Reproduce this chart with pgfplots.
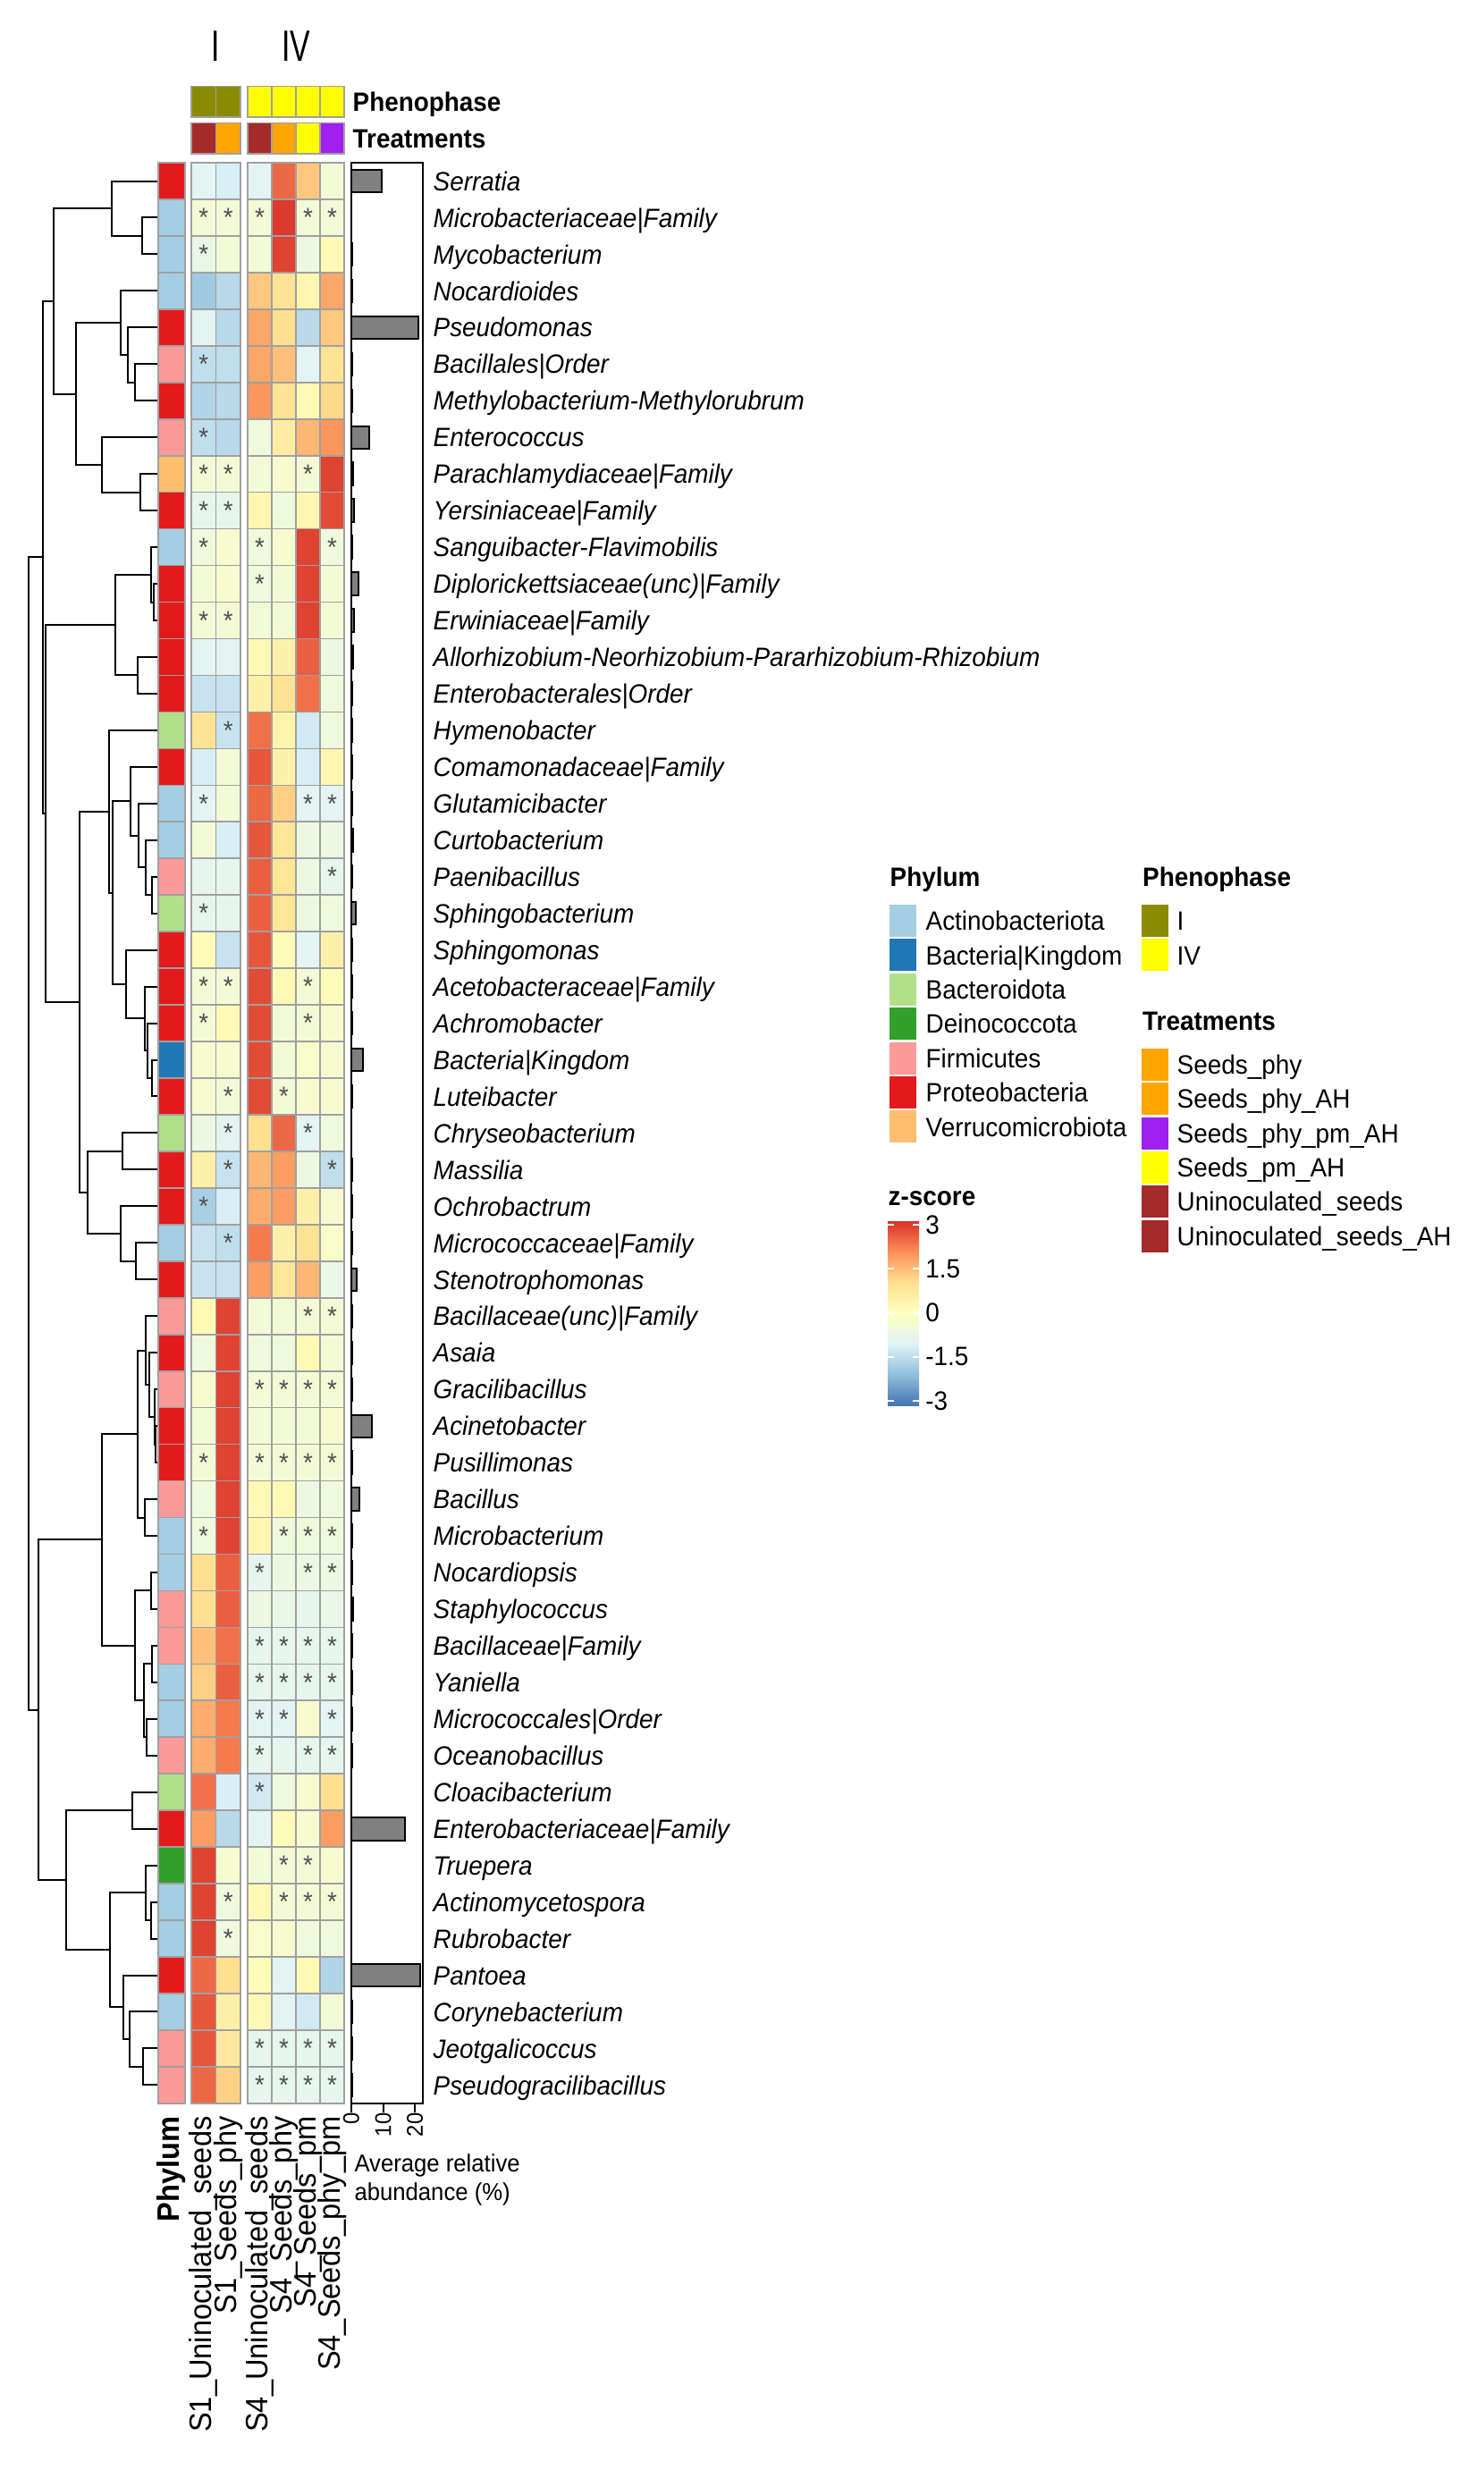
\documentclass[border=0pt]{standalone}
\usepackage{fontspec}
\setmainfont{Liberation Sans}[FakeStretch=0.94]
\newfontfamily\narrowfont{Liberation Sans}[FakeStretch=0.69]
\usepackage{pgfplots}
\usepackage{pgfplotstable}
\pgfplotsset{compat=1.18}
\usetikzlibrary{calc}

\definecolor{cAct}{HTML}{A6CEE3}
\definecolor{cKin}{HTML}{1F78B4}
\definecolor{cBcd}{HTML}{B2DF8A}
\definecolor{cDei}{HTML}{33A02C}
\definecolor{cFir}{HTML}{FB9A99}
\definecolor{cPro}{HTML}{E31A1C}
\definecolor{cVer}{HTML}{FDBF6F}
\definecolor{cOli}{HTML}{8B8B00}
\definecolor{cYel}{HTML}{FFFF00}
\definecolor{cOra}{HTML}{FFA500}
\definecolor{cPur}{HTML}{A020F0}
\definecolor{cBro}{HTML}{A52A2A}
\definecolor{cgrid}{RGB}{160,160,160}
\definecolor{barfill}{RGB}{128,128,128}
\definecolor{starc}{RGB}{80,80,80}

\newcommand{\fA}{\fontsize{8.9pt}{10.7pt}\selectfont}
\newcommand{\fB}{\fontsize{10.4pt}{12pt}\selectfont}
\newcommand{\fC}{\fontsize{7.6pt}{9pt}\selectfont}
\newcommand{\fD}{\fontsize{8.2pt}{10pt}\selectfont}

\pgfplotsset{colormap={rdylbu}{rgb255=(69,117,180) rgb255=(145,191,219) rgb255=(224,243,248) rgb255=(255,255,191) rgb255=(254,224,144) rgb255=(252,141,89) rgb255=(215,48,39)}}

% cell marks, 1 px of the reference = 0.3pt
\pgfdeclareplotmark{cellP}{\pgfpathrectangle{\pgfpoint{-4.5pt}{-6.144pt}}{\pgfpoint{9pt}{12.288pt}}\pgfusepath{fill,stroke}}
\pgfdeclareplotmark{cellS1}{\pgfpathrectangle{\pgfpoint{-4.125pt}{-6.144pt}}{\pgfpoint{8.25pt}{12.288pt}}\pgfusepath{fill,stroke}}
\pgfdeclareplotmark{cellS4}{\pgfpathrectangle{\pgfpoint{-4.05pt}{-6.144pt}}{\pgfpoint{8.1pt}{12.288pt}}\pgfusepath{fill,stroke}}
\pgfdeclareplotmark{hdrS1}{\pgfpathrectangle{\pgfpoint{-4.125pt}{-5.15pt}}{\pgfpoint{8.25pt}{10.3pt}}\pgfusepath{fill,stroke}}
\pgfdeclareplotmark{hdrS4}{\pgfpathrectangle{\pgfpoint{-4.05pt}{-5.15pt}}{\pgfpoint{8.1pt}{10.3pt}}\pgfusepath{fill,stroke}}
\pgfdeclareplotmark{legsw}{\pgfpathrectangle{\pgfpoint{-4.575pt}{-5.4pt}}{\pgfpoint{9.15pt}{10.8pt}}\pgfusepath{fill}}

\pgfplotsset{
  hcell/.style={scatter, only marks, point meta=explicit, line width=0.5pt,
    mark options={line width=0.5pt},
    scatter/use mapped color={draw=cgrid, fill=mapped color}},
  hdr/.style={only marks, line width=0.5pt, mark options={draw=cgrid, fill=#1, line width=0.5pt}},
  sw/.style={only marks, mark=legsw, mark options={fill=#1, draw=none}},
}

% z-scores per taxon (rows top to bottom), phylum, mean relative abundance (%)
\pgfplotstableread{
row phy S1U S1P S4U S4P S4M S4X bar
1 Pro -0.9 -1.1 -0.9 2.4 1.3 -0.4 9.6
2 Act -0.4 -0.4 -0.4 2.9 -0.4 -0.4 0.1
3 Act -0.7 -0.4 -0.4 2.8 -0.6 0.2 0.3
4 Act -1.8 -1.5 1.3 0.9 0.3 1.7 0.3
5 Pro -0.9 -1.5 1.7 1.0 -1.5 1.3 21.1
6 Fir -1.4 -1.4 1.7 1.4 -0.9 0.9 0.2
7 Pro -1.6 -1.5 1.9 0.9 0.2 1.1 0.2
8 Fir -1.4 -1.5 -0.5 0.6 1.5 1.9 5.6
9 Ver -0.4 -0.4 -0.4 -0.3 -0.4 2.8 0.5
10 Pro -0.8 -0.8 0.3 -0.5 0.3 2.7 0.8
11 Act -0.5 -0.3 -0.5 -0.3 2.8 -0.5 0.3
12 Pro -0.4 -0.3 -0.5 -0.4 2.8 -0.4 2.2
13 Pro -0.4 -0.4 -0.4 -0.4 2.8 -0.4 0.9
14 Pro -0.9 -0.9 0.2 0.5 2.5 -0.6 0.6
15 Pro -1.3 -1.3 0.5 0.9 2.3 -0.5 0.3
16 Bcd 0.9 -1.3 2.3 0.4 -1.2 -0.5 0.2
17 Pro -1.1 -0.4 2.6 0.5 -1.1 0.3 0.3
18 Act -0.9 -0.4 2.4 1.2 -0.9 -0.9 0.3
19 Act -0.4 -1.1 2.6 0.8 -0.6 -0.6 0.5
20 Fir -0.8 -0.8 2.5 0.8 -0.6 -0.8 0.4
21 Bcd -0.8 -0.8 2.5 0.8 -0.6 -0.5 1.4
22 Pro 0.1 -1.3 2.6 0.1 -0.9 0.5 0.3
23 Pro -0.4 -0.4 2.7 0.2 -0.4 0.1 0.3
24 Pro -0.4 0.2 2.7 -0.4 -0.4 -0.3 0.3
25 Kin -0.3 -0.3 2.7 -0.4 -0.2 -0.3 3.7
26 Pro -0.3 -0.4 2.7 -0.4 -0.3 -0.3 0.3
27 Bcd -0.6 -0.9 1.0 2.4 -0.9 -0.5 0.1
28 Pro 0.5 -1.3 1.5 1.8 -0.6 -1.4 0.2
29 Pro -1.7 -1.1 1.6 1.8 0.5 -0.3 0.2
30 Act -1.3 -1.4 2.2 0.5 0.9 -0.2 0.3
31 Pro -1.3 -1.3 1.8 0.8 1.5 -0.7 1.7
32 Fir 0.2 2.8 -0.4 -0.4 -0.4 -0.4 0.3
33 Pro -0.5 2.8 -0.5 -0.5 0.2 -0.4 0.2
34 Fir -0.3 2.8 -0.4 -0.4 -0.4 -0.4 0.3
35 Pro -0.4 2.8 -0.4 -0.4 -0.4 -0.3 6.5
36 Pro -0.4 2.8 -0.4 -0.4 -0.4 -0.4 0.3
37 Fir -0.5 2.8 0.2 0.2 -0.6 -0.5 2.5
38 Act -0.5 2.8 0.3 -0.5 -0.5 -0.5 0.2
39 Act 1.0 2.5 -0.8 -0.6 -0.6 -0.6 0.2
40 Fir 1.0 2.5 -0.6 -0.7 -0.8 -0.7 0.6
41 Fir 1.4 2.3 -0.8 -0.8 -0.8 -0.8 0.3
42 Act 1.2 2.5 -0.8 -0.8 -0.8 -0.8 0.2
43 Act 1.6 2.2 -0.9 -0.9 -0.3 -0.9 0.2
44 Fir 1.6 2.2 -0.8 -0.8 -0.8 -0.8 0.2
45 Bcd 2.3 -1.1 -1.2 -0.5 -0.3 1.0 0.1
46 Pro 1.8 -1.5 -0.9 0.1 -0.3 1.8 16.9
47 Dei 2.8 -0.3 -0.4 -0.4 -0.4 -0.3 0.1
48 Act 2.8 -0.5 0.2 -0.4 -0.4 -0.4 0.1
49 Act 2.8 -0.5 -0.2 -0.3 -0.5 -0.5 0.1
50 Pro 2.4 1.0 0.1 -0.9 0.2 -1.6 21.7
51 Act 2.6 0.5 0.2 -0.9 -1.2 -0.4 0.3
52 Fir 2.6 0.7 -0.8 -0.8 -0.8 -0.8 0.2
53 Fir 2.4 1.2 -0.8 -0.8 -0.8 -0.8 0.4
}\hm

\begin{document}
\begin{tikzpicture}
\path[use as bounding box] (0,0) rectangle (497.7pt,-828.9pt);

% ---------------- dendrogram + heatmap (x in px, y in rows)
\begin{axis}[name=H, at={(0pt,-26.34pt)}, anchor=north west, scale only axis,
  width=144pt, height=679.5pt, xmin=0, xmax=480, ymin=-1.8, ymax=53.5,
  y dir=reverse, hide axis, clip=false,
  colormap name=rdylbu, point meta min=-3, point meta max=3]

\addplot[black, line width=0.6pt, mark=none, unbounded coords=jump] coordinates {
(176,2)(159,2)(159,3)(176,3) (nan,nan)
(176,1)(125,1)(125,2.5)(159,2.5) (nan,nan)
(176,6)(151,6)(151,7)(176,7) (nan,nan)
(176,5)(143,5)(143,6.5)(151,6.5) (nan,nan)
(176,4)(135,4)(135,5.75)(143,5.75) (nan,nan)
(176,9)(157,9)(157,10)(176,10) (nan,nan)
(176,8)(114,8)(114,9.5)(157,9.5) (nan,nan)
(135,4.875)(85,4.875)(85,8.75)(114,8.75) (nan,nan)
(125,1.75)(60,1.75)(60,6.8125)(85,6.8125) (nan,nan)
(176,12)(172,12)(172,13)(176,13) (nan,nan)
(176,11)(169,11)(169,12.5)(172,12.5) (nan,nan)
(176,14)(154,14)(154,15)(176,15) (nan,nan)
(169,11.75)(129,11.75)(129,14.5)(154,14.5) (nan,nan)
(176,20)(170,20)(170,21)(176,21) (nan,nan)
(176,19)(163,19)(163,20.5)(170,20.5) (nan,nan)
(176,18)(155,18)(155,19.75)(163,19.75) (nan,nan)
(176,17)(146,17)(146,18.875)(155,18.875) (nan,nan)
(176,25)(170,25)(170,26)(176,26) (nan,nan)
(176,24)(165,24)(165,25.5)(170,25.5) (nan,nan)
(176,23)(162,23)(162,24.75)(165,24.75) (nan,nan)
(176,22)(141,22)(141,23.875)(162,23.875) (nan,nan)
(146,17.9375)(126,17.9375)(126,22.9375)(141,22.9375) (nan,nan)
(176,16)(122,16)(122,20.4375)(126,20.4375) (nan,nan)
(176,27)(137,27)(137,28)(176,28) (nan,nan)
(176,30)(152,30)(152,31)(176,31) (nan,nan)
(176,29)(135,29)(135,30.5)(152,30.5) (nan,nan)
(137,27.5)(98,27.5)(98,29.75)(135,29.75) (nan,nan)
(122,18.2188)(89,18.2188)(89,28.625)(98,28.625) (nan,nan)
(129,13.125)(51,13.125)(51,23.4219)(89,23.4219) (nan,nan)
(60,4.2813)(48,4.2813)(48,18.2734)(51,18.2734) (nan,nan)
(176,35)(174.3,35)(174.3,36)(176,36) (nan,nan)
(176,34)(173.3,34)(173.3,35.5)(174.3,35.5) (nan,nan)
(176,33)(167,33)(167,34.75)(173.3,34.75) (nan,nan)
(176,32)(163,32)(163,33.875)(167,33.875) (nan,nan)
(176,37)(162,37)(162,38)(176,38) (nan,nan)
(163,32.9375)(154,32.9375)(154,37.5)(162,37.5) (nan,nan)
(176,39)(169,39)(169,40)(176,40) (nan,nan)
(176,41)(170,41)(170,42)(176,42) (nan,nan)
(176,43)(164,43)(164,44)(176,44) (nan,nan)
(170,41.5)(161,41.5)(161,43.5)(164,43.5) (nan,nan)
(169,39.5)(151,39.5)(151,42.5)(161,42.5) (nan,nan)
(154,35.2188)(114,35.2188)(114,41)(151,41) (nan,nan)
(176,45)(148,45)(148,46)(176,46) (nan,nan)
(176,48)(169,48)(169,49)(176,49) (nan,nan)
(176,47)(163,47)(163,48.5)(169,48.5) (nan,nan)
(176,52)(160,52)(160,53)(176,53) (nan,nan)
(176,51)(145,51)(145,52.5)(160,52.5) (nan,nan)
(176,50)(138,50)(138,51.75)(145,51.75) (nan,nan)
(163,47.75)(123,47.75)(123,50.875)(138,50.875) (nan,nan)
(148,45.5)(74,45.5)(74,49.3125)(123,49.3125) (nan,nan)
(114,38.1094)(43,38.1094)(43,47.4063)(74,47.4063) (nan,nan)
(48,11.2773)(32,11.2773)(32,42.7578)(43,42.7578)
};

% phylum column
\addplot[scatter, only marks, mark=cellP, point meta=explicit symbolic, line width=0.5pt,
  scatter/classes={
    Act={draw=cgrid,fill=cAct}, Kin={draw=cgrid,fill=cKin}, Bcd={draw=cgrid,fill=cBcd},
    Dei={draw=cgrid,fill=cDei}, Fir={draw=cgrid,fill=cFir}, Pro={draw=cgrid,fill=cPro},
    Ver={draw=cgrid,fill=cVer}}]
  table[x expr=192, y=row, meta=phy]{\hm};

% z-score cells
\addplot[hcell, mark=cellS1] table[x expr=227.75, y=row, meta=S1U]{\hm};
\addplot[hcell, mark=cellS1] table[x expr=255.25, y=row, meta=S1P]{\hm};
\addplot[hcell, mark=cellS4] table[x expr=290.5, y=row, meta=S4U]{\hm};
\addplot[hcell, mark=cellS4] table[x expr=317.5, y=row, meta=S4P]{\hm};
\addplot[hcell, mark=cellS4] table[x expr=344.5, y=row, meta=S4M]{\hm};
\addplot[hcell, mark=cellS4] table[x expr=371.5, y=row, meta=S4X]{\hm};

% column annotations
\addplot[hdr=cOli, mark=hdrS1] coordinates {(227.75,-1.167)(255.25,-1.167)};
\addplot[hdr=cYel, mark=hdrS4] coordinates {(290.5,-1.167)(317.5,-1.167)(344.5,-1.167)(371.5,-1.167)};
\addplot[hdr=cBro, mark=hdrS1] coordinates {(227.75,-0.171)};
\addplot[hdr=cOra, mark=hdrS1] coordinates {(255.25,-0.171)};
\addplot[hdr=cBro, mark=hdrS4] coordinates {(290.5,-0.171)};
\addplot[hdr=cOra, mark=hdrS4] coordinates {(317.5,-0.171)};
\addplot[hdr=cYel, mark=hdrS4] coordinates {(344.5,-0.171)};
\addplot[hdr=cPur, mark=hdrS4] coordinates {(371.5,-0.171)};

% significance asterisks
\addplot[only marks, mark=text, text mark={*}, text mark as node=true,
  text mark style={font=\fA, text=starc, inner sep=0pt, anchor=center}] coordinates {
(227.75,2)(255.25,2)(290.5,2)(344.5,2)(371.5,2)
(227.75,3) (227.75,6) (227.75,8)
(227.75,9)(255.25,9)(344.5,9)
(227.75,10)(255.25,10)
(227.75,11)(290.5,11)(371.5,11)
(290.5,12)
(227.75,13)(255.25,13)
(255.25,16)
(227.75,18)(344.5,18)(371.5,18)
(371.5,20) (227.75,21)
(227.75,23)(255.25,23)(344.5,23)
(227.75,24)(344.5,24)
(255.25,26)(317.5,26)
(255.25,27)(344.5,27)
(255.25,28)(371.5,28)
(227.75,29) (255.25,30)
(344.5,32)(371.5,32)
(290.5,34)(317.5,34)(344.5,34)(371.5,34)
(227.75,36)(290.5,36)(317.5,36)(344.5,36)(371.5,36)
(227.75,38)(317.5,38)(344.5,38)(371.5,38)
(290.5,39)(344.5,39)(371.5,39)
(290.5,41)(317.5,41)(344.5,41)(371.5,41)
(290.5,42)(317.5,42)(344.5,42)(371.5,42)
(290.5,43)(317.5,43)(371.5,43)
(290.5,44)(344.5,44)(371.5,44)
(290.5,45)
(317.5,47)(344.5,47)
(255.25,48)(317.5,48)(344.5,48)(371.5,48)
(255.25,49)
(290.5,52)(317.5,52)(344.5,52)(371.5,52)
(290.5,53)(317.5,53)(344.5,53)(371.5,53)
};

\node[font=\narrowfont\fontsize{14.7pt}{16pt}\selectfont] at (axis cs:241.5,-2.674) {I};
\node[font=\narrowfont\fontsize{14.7pt}{16pt}\selectfont] at (axis cs:331,-2.674) {IV};
\node[anchor=base west, font=\fA\bfseries, inner sep=0pt] at (axis cs:394,-0.909) {Phenophase};
\node[anchor=base west, font=\fA\bfseries, inner sep=0pt] at (axis cs:394,0.087) {Treatments};

\node[rotate=90, anchor=east, inner sep=0pt, font=\fB\bfseries] at (axis cs:192,53.84) {Phylum};
\node[rotate=90, anchor=east, inner sep=0pt, font=\fB] at (axis cs:227.75,53.84) {S1\_Uninoculated\_seeds};
\node[rotate=90, anchor=east, inner sep=0pt, font=\fB] at (axis cs:255.25,53.84) {S1\_Seeds\_phy};
\node[rotate=90, anchor=east, inner sep=0pt, font=\fB] at (axis cs:290.5,53.84) {S4\_Uninoculated\_seeds};
\node[rotate=90, anchor=east, inner sep=0pt, font=\fB] at (axis cs:317.5,53.84) {S4\_Seeds\_phy};
\node[rotate=90, anchor=east, inner sep=0pt, font=\fB] at (axis cs:344.5,53.84) {S4\_Seeds\_pm};
\node[rotate=90, anchor=east, inner sep=0pt, font=\fB] at (axis cs:371.5,53.84) {S4\_Seeds\_phy\_pm};
\end{axis}

% ---------------- abundance bars with row names
\begin{axis}[at={(117.9pt,-54.6pt)}, anchor=north west, scale only axis,
  width=24pt, height=651.3pt, xmin=0, xmax=22.5, ymin=0.5, ymax=53.5, clip=false,
  axis line style={line width=0.6pt},
  xtick={0,10,20}, xticklabels={0,10,20}, xtick pos=left, xtick align=outside,
  major tick length=3pt, xtick style={black, line width=0.6pt},
  xticklabel style={rotate=90, anchor=east, font=\fC, inner sep=0pt},
  ytick={1,...,53}, yticklabel pos=right, ytick style={draw=none}, ytick align=inside,
  yticklabel style={font=\fA\itshape, anchor=base west, inner sep=0pt, xshift=3.3pt, yshift=-3.2pt},
  yticklabels={Pseudogracilibacillus, Jeotgalicoccus, Corynebacterium, Pantoea, Rubrobacter,
    Actinomycetospora, Truepera, Enterobacteriaceae|Family, Cloacibacterium, Oceanobacillus,
    Micrococcales|Order, Yaniella, Bacillaceae|Family, Staphylococcus, Nocardiopsis,
    Microbacterium, Bacillus, Pusillimonas, Acinetobacter, Gracilibacillus, Asaia,
    Bacillaceae(unc)|Family, Stenotrophomonas, Micrococcaceae|Family, Ochrobactrum, Massilia,
    Chryseobacterium, Luteibacter, Bacteria|Kingdom, Achromobacter, Acetobacteraceae|Family,
    Sphingomonas, Sphingobacterium, Paenibacillus, Curtobacterium, Glutamicibacter,
    Comamonadaceae|Family, Hymenobacter, Enterobacterales|Order,
    Allorhizobium-Neorhizobium-Pararhizobium-Rhizobium, Erwiniaceae|Family,
    Diplorickettsiaceae(unc)|Family, Sanguibacter-Flavimobilis, Yersiniaceae|Family,
    Parachlamydiaceae|Family, Enterococcus, Methylobacterium-Methylorubrum, Bacillales|Order,
    Pseudomonas, Nocardioides, Mycobacterium, Microbacteriaceae|Family, Serratia}]
\addplot[xbar, bar width=0.62, bar shift=0pt, fill=barfill, draw=black, line width=0.6pt]
  table[x=bar, y expr=54-\thisrow{row}]{\hm};
\node[anchor=base west, font=\fD, inner sep=0pt] at (axis cs:0.8,-1.36) {Average relative};
\node[anchor=base west, font=\fD, inner sep=0pt] at (axis cs:0.8,-2.16) {abundance (\%)};
\end{axis}

% ---------------- legends (x, y in px of the whole picture)
\begin{axis}[at={(0pt,0pt)}, anchor=north west, scale only axis,
  width=497.7pt, height=828.9pt, xmin=0, xmax=1659, ymin=0, ymax=2763,
  y dir=reverse, hide axis, clip=false,
  colormap name=rdylbu, point meta min=-3.15, point meta max=3.15,
  colorbar shift/.style={xshift=0pt},
  colorbar, colorbar style={
    at={($(parent axis.north west)+(297.9pt,-409.5pt)$)}, anchor=north west,
    scale only axis, width=10.5pt, height=62.1pt,
    axis line style={draw=none},
    ytick={-3,-1.5,0,1.5,3}, yticklabels={{-3},{-1.5},{0},{1.5},{3}},
    yticklabel pos=right, ytick pos=both, ytick align=inside,
    major tick length=2.2pt, ytick style={draw=white, line width=0.7pt},
    yticklabel style={font=\fA, inner sep=0pt, xshift=2pt}}]
\addplot[sw=cAct] coordinates {(1010,1030)};
\addplot[sw=cKin] coordinates {(1010,1068.4)};
\addplot[sw=cBcd] coordinates {(1010,1106.8)};
\addplot[sw=cDei] coordinates {(1010,1145.2)};
\addplot[sw=cFir] coordinates {(1010,1183.6)};
\addplot[sw=cPro] coordinates {(1010,1222)};
\addplot[sw=cVer] coordinates {(1010,1260.4)};
\addplot[sw=cOli] coordinates {(1292,1030)};
\addplot[sw=cYel] coordinates {(1292,1068.4)};
\addplot[sw=cOra] coordinates {(1292,1191)};
\addplot[sw=cOra] coordinates {(1292,1229.3)};
\addplot[sw=cPur] coordinates {(1292,1267.6)};
\addplot[sw=cYel] coordinates {(1292,1305.9)};
\addplot[sw=cBro] coordinates {(1292,1344.2)};
\addplot[sw=cBro] coordinates {(1292,1382.5)};

\node[anchor=base west, font=\fA\bfseries, inner sep=0pt] at (axis cs:995,991.5) {Phylum};
\node[anchor=base west, font=\fA, inner sep=0pt] at (axis cs:1035,1040.6) {Actinobacteriota};
\node[anchor=base west, font=\fA, inner sep=0pt] at (axis cs:1035,1079) {Bacteria|Kingdom};
\node[anchor=base west, font=\fA, inner sep=0pt] at (axis cs:1035,1117.4) {Bacteroidota};
\node[anchor=base west, font=\fA, inner sep=0pt] at (axis cs:1035,1155.8) {Deinococcota};
\node[anchor=base west, font=\fA, inner sep=0pt] at (axis cs:1035,1194.2) {Firmicutes};
\node[anchor=base west, font=\fA, inner sep=0pt] at (axis cs:1035,1232.6) {Proteobacteria};
\node[anchor=base west, font=\fA, inner sep=0pt] at (axis cs:1035,1271) {Verrucomicrobiota};

\node[anchor=base west, font=\fA\bfseries, inner sep=0pt] at (axis cs:1277.5,991.5) {Phenophase};
\node[anchor=base west, font=\fA, inner sep=0pt] at (axis cs:1316,1040.6) {I};
\node[anchor=base west, font=\fA, inner sep=0pt] at (axis cs:1316,1079) {IV};

\node[anchor=base west, font=\fA\bfseries, inner sep=0pt] at (axis cs:1277.5,1152.5) {Treatments};
\node[anchor=base west, font=\fA, inner sep=0pt] at (axis cs:1316,1201.6) {Seeds\_phy};
\node[anchor=base west, font=\fA, inner sep=0pt] at (axis cs:1316,1239.9) {Seeds\_phy\_AH};
\node[anchor=base west, font=\fA, inner sep=0pt] at (axis cs:1316,1278.2) {Seeds\_phy\_pm\_AH};
\node[anchor=base west, font=\fA, inner sep=0pt] at (axis cs:1316,1316.5) {Seeds\_pm\_AH};
\node[anchor=base west, font=\fA, inner sep=0pt] at (axis cs:1316,1354.8) {Uninoculated\_seeds};
\node[anchor=base west, font=\fA, inner sep=0pt] at (axis cs:1316,1393.1) {Uninoculated\_seeds\_AH};

\node[anchor=base west, font=\fA\bfseries, inner sep=0pt] at (axis cs:993,1348) {z-score};
\end{axis}
\end{tikzpicture}
\end{document}
